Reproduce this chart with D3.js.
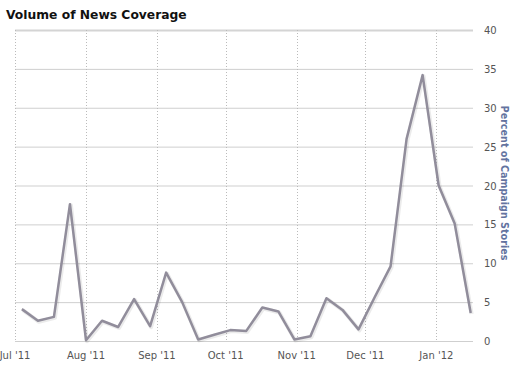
<!DOCTYPE html>
<html>
<head>
<meta charset="utf-8">
<script src="https://cdn.jsdelivr.net/npm/d3@7"></script>
<style>
  body { margin: 0; background: #fff; }
  svg { display: block; }
</style>
</head>
<body>
<div id="chart"></div>
<script>
// weekly points, Monday of each week
var weeks = ["2011-07-04","2011-07-11","2011-07-18","2011-07-25","2011-08-01","2011-08-08",
  "2011-08-15","2011-08-22","2011-08-29","2011-09-05","2011-09-12","2011-09-19","2011-09-26",
  "2011-10-03","2011-10-10","2011-10-17","2011-10-24","2011-10-31","2011-11-07","2011-11-14",
  "2011-11-21","2011-11-28","2011-12-05","2011-12-12","2011-12-19","2011-12-26","2012-01-02",
  "2012-01-09","2012-01-16"];
var percent = [4.1, 2.6, 3.1, 17.6, 0.1, 2.6, 1.8, 5.4, 1.9, 8.8, 5.0, 0.2, 0.8,
  1.4, 1.3, 4.3, 3.8, 0.2, 0.6, 5.5, 4.0, 1.5, 5.6, 9.6, 26.0, 34.2, 20.0, 15.1, 3.6];
var yTicks = [0, 5, 10, 15, 20, 25, 30, 35, 40];
var monthTicks = ["2011-07-01","2011-08-01","2011-09-01","2011-10-01","2011-11-01","2011-12-01","2012-01-01"];

var parse = d3.timeParse("%Y-%m-%d");
var data = weeks.map(function(w, i) { return { date: parse(w), value: percent[i] }; });

var width = 520, height = 375;
var plotL = 15, plotR = 473, plotT = 30, plotB = 341;

var svg = d3.select("#chart").append("svg")
    .attr("width", width)
    .attr("height", height);

svg.append("text")
    .attr("x", 6).attr("y", 19)
    .style("font-family", "'DejaVu Sans', Verdana, sans-serif")
    .style("font-weight", "bold")
    .style("font-size", "12.3px")
    .style("fill", "#111")
    .text("Volume of News Coverage");

var x = d3.scaleTime()
    .domain([parse("2011-07-01"), parse("2012-01-17")])
    .range([plotL, plotR]);
var y = d3.scaleLinear().domain([0, 40]).range([plotB, plotT]);

// horizontal grid + right axis labels
svg.append("g")
  .selectAll("line").data(yTicks).join("line")
    .attr("x1", plotL).attr("x2", plotR)
    .attr("y1", function(d) { return y(d) + 0.5; })
    .attr("y2", function(d) { return y(d) + 0.5; })
    .attr("stroke", function(d) { return d === 40 ? "#d4d4d4" : "#cfcfcf"; })
    .attr("stroke-width", function(d) { return d === 40 ? 2 : 1; });

svg.append("g")
  .selectAll("text").data(yTicks).join("text")
    .attr("x", 484)
    .attr("y", function(d) { return y(d) + 4; })
    .style("font-family", "'DejaVu Sans', Verdana, sans-serif")
    .style("font-size", "10px")
    .style("fill", "#555")
    .text(function(d) { return d; });

// vertical dotted month lines
var months = monthTicks.map(parse);
svg.append("g")
  .selectAll("line").data(months).join("line")
    .attr("x1", function(d) { return Math.round(x(d)) + 0.5; })
    .attr("x2", function(d) { return Math.round(x(d)) + 0.5; })
    .attr("y1", plotT).attr("y2", plotB)
    .attr("stroke", "#bbb")
    .attr("stroke-dasharray", "1,2");

var fmt = d3.timeFormat("%b '%y");
svg.append("g")
  .selectAll("text").data(months).join("text")
    .attr("x", function(d) { return x(d); })
    .attr("y", 359)
    .attr("text-anchor", "middle")
    .style("font-family", "'DejaVu Sans', Verdana, sans-serif")
    .style("font-size", "10px")
    .style("fill", "#555")
    .text(function(d) { return fmt(d); });

svg.append("text")
    .attr("transform", "translate(501,183) rotate(90)")
    .attr("text-anchor", "middle")
    .style("font-family", "'DejaVu Sans', Verdana, sans-serif")
    .style("font-weight", "bold")
    .style("font-size", "9.6px")
    .style("fill", "#6373a0")
    .text("Percent of Campaign Stories");

var line = d3.line()
    .x(function(d) { return x(d.date); })
    .y(function(d) { return y(d.value); });

// faint shadow under the line
svg.append("path")
    .datum(data)
    .attr("d", line)
    .attr("transform", "translate(1,1)")
    .attr("fill", "none")
    .attr("stroke", "#000")
    .attr("stroke-opacity", 0.08)
    .attr("stroke-width", 4)
    .attr("stroke-linejoin", "round");

svg.append("path")
    .datum(data)
    .attr("d", line)
    .attr("fill", "none")
    .attr("stroke", "#918d9b")
    .attr("stroke-width", 2.5)
    .attr("stroke-linejoin", "round");
</script>
</body>
</html>
